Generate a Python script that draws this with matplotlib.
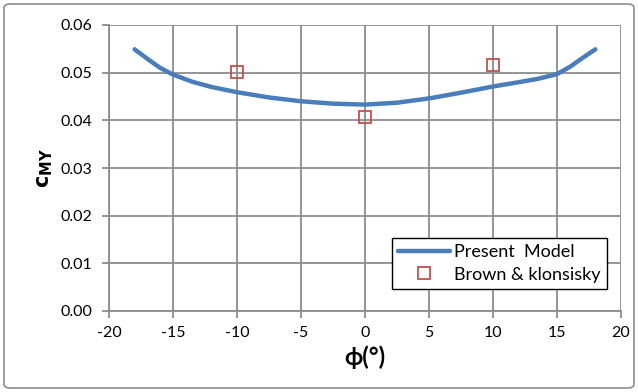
import matplotlib
matplotlib.use("Agg")
import matplotlib.pyplot as plt
from matplotlib.patches import FancyBboxPatch

# Present model curve
phi_model = [-18, -17, -16, -15, -13.5, -12, -10, -7.5, -5, -2.5, 0,
             2.5, 5, 7.5, 10, 12, 13.5, 15, 16, 17, 18]
cmy_model = [0.0549, 0.0529, 0.0510, 0.0496, 0.0481, 0.0470, 0.0459, 0.0448, 0.0440, 0.0435, 0.0433,
             0.0437, 0.0446, 0.0458, 0.0471, 0.0480, 0.0487, 0.0497, 0.0512, 0.0531, 0.0549]

# Brown & klonsisky data
phi_exp = [-10, 0, 10]
cmy_exp = [0.0501, 0.0407, 0.0516]

x_ticks = [-20, -15, -10, -5, 0, 5, 10, 15, 20]
y_ticks = [0.00, 0.01, 0.02, 0.03, 0.04, 0.05, 0.06]

plt.rcParams['font.family'] = ['Lato', 'DejaVu Sans']

fig = plt.figure(figsize=(6.38, 3.92), dpi=100)
ax = fig.add_axes([109/638, 1 - 311/392, (621-109)/638, (311-25)/392])

grid_c = '#8c8c8c'
ax.plot(phi_model, cmy_model, color='#4a7ebb', lw=3.2, solid_capstyle='round',
        solid_joinstyle='round', label='Present  Model', zorder=3)
ax.plot(phi_exp, cmy_exp, ls='none', marker='s', ms=9, mfc='none', mec='#c0504d',
        mew=1.3, label='Brown & klonsisky', zorder=4)

ax.set_xlim(-20, 20)
ax.set_ylim(0, 0.06)
ax.set_xticks(x_ticks)
ax.set_yticks(y_ticks)
ax.set_xticklabels([str(v) for v in x_ticks])
ax.set_yticklabels([f"{v:.2f}" for v in y_ticks])
ax.grid(True, color=grid_c, lw=1.3)
ax.set_axisbelow(True)
for s in ['top', 'right']:
    ax.spines[s].set_visible(False)
for s in ['left', 'bottom']:
    ax.spines[s].set_color(grid_c)
    ax.spines[s].set_linewidth(1.3)
ax.tick_params(axis='both', colors=grid_c, width=1.3, length=5, labelsize=11.5,
               labelcolor='black')
ax.tick_params(axis='x', pad=6)
ax.tick_params(axis='y', pad=7)

ax.set_xlabel('ϕ(°)', fontsize=17, fontweight='bold', labelpad=4)
ax.set_ylabel(r'$\mathbf{c}_{\mathbf{MY}}$', fontsize=15, labelpad=4)

leg = ax.legend(loc='lower right', bbox_to_anchor=(0.972, 0.077), fontsize=13,
                frameon=True, fancybox=False, edgecolor='black', framealpha=1,
                handlelength=2.9, handletextpad=0.2, borderpad=0.35,
                labelspacing=0.35, borderaxespad=0)
leg.get_frame().set_linewidth(1.0)

border = FancyBboxPatch((4/638, 4/392), 630/638, 384/392,
                        boxstyle='round,pad=0,rounding_size=0.01',
                        transform=fig.transFigure, fill=False,
                        edgecolor='#8c8c8c', lw=1.2)
fig.patches.append(border)

fig.savefig('out.png', dpi=100)
